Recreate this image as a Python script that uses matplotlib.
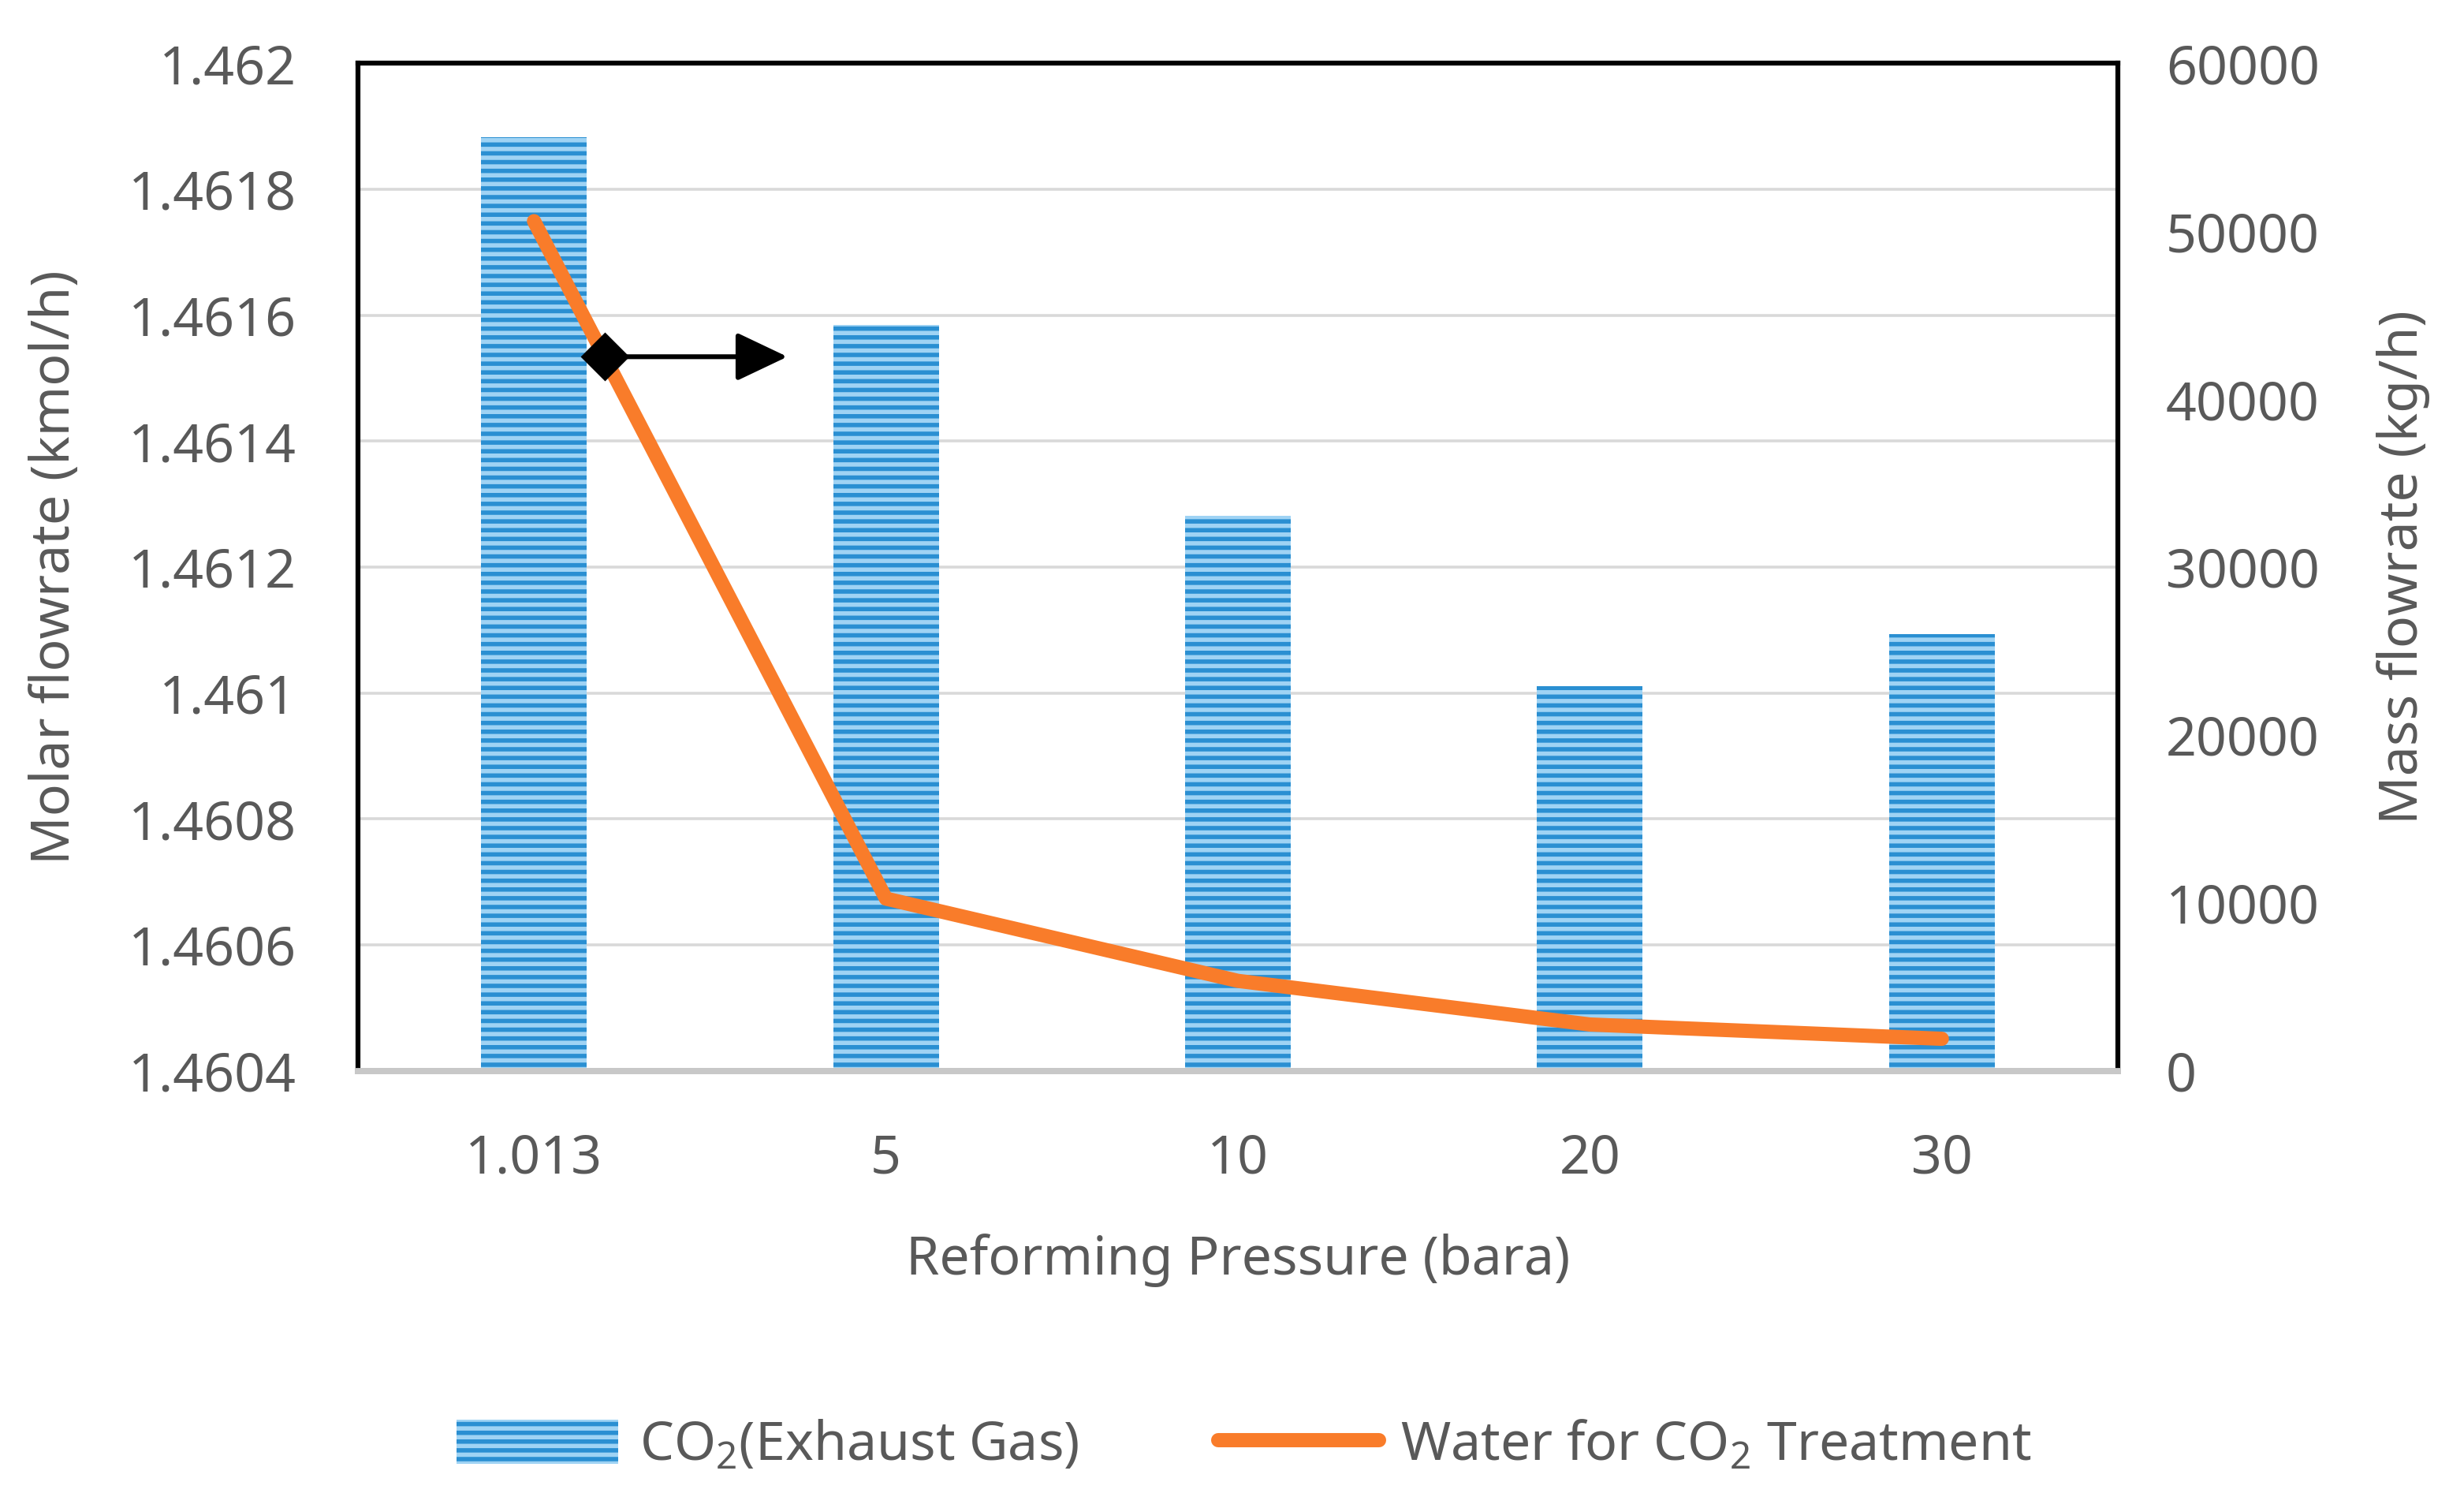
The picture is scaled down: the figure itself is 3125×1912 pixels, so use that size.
import numpy as np
import matplotlib
matplotlib.use("Agg")
import matplotlib.pyplot as plt

# data
pressures = ["1.013", "5", "10", "20", "30"]
co2_molar = [1.461882, 1.461584, 1.461281, 1.461011, 1.461094]   # kmol/h, left axis
water_mass = [50600, 10250, 5350, 2750, 1900]                     # kg/h, right axis

left_ticks = [1.4604, 1.4606, 1.4608, 1.461, 1.4612, 1.4614, 1.4616, 1.4618, 1.462]
left_ticklabels = ["1.4604", "1.4606", "1.4608", "1.461", "1.4612", "1.4614", "1.4616", "1.4618", "1.462"]
right_ticks = [0, 10000, 20000, 30000, 40000, 50000, 60000]

plt.rcParams['font.family'] = ['Noto Sans', 'DejaVu Sans']
plt.rcParams['mathtext.fontset'] = 'custom'
plt.rcParams['mathtext.rm'] = 'Noto Sans'
plt.rcParams['hatch.linewidth'] = 2.0

txt = '#595959'
fs = 24.5

fig = plt.figure(figsize=(15.625, 9.56), dpi=200)
ax = fig.add_axes([0.1453, 0.290, 0.7142, 0.668])
ax2 = ax.twinx()

x = np.arange(len(pressures))
ymin = 1.4604
bars = ax.bar(x, np.array(co2_molar) - ymin, bottom=ymin, width=0.3,
              color='#9fd3f4', edgecolor='#2a8fd2', hatch='---', linewidth=0,
              zorder=2, label='CO$_2$(Exhaust Gas)')
ax.set_xlim(-0.5, len(pressures) - 0.5)
ax.set_ylim(ymin, 1.462)
ax.set_yticks(left_ticks)
ax.set_yticklabels(left_ticklabels)
ax.set_xticks(x)
ax.set_xticklabels(pressures)
ax.yaxis.grid(True, color='#d9d9d9', linewidth=1.3, zorder=0)
ax.set_axisbelow(True)

ln, = ax2.plot(x, water_mass, color='#f97c2a', linewidth=6.5,
               solid_capstyle='round', solid_joinstyle='round',
               label='Water for CO$_2$ Treatment')
ax2.set_ylim(0, 60000)
ax2.set_yticks(right_ticks)

for a in (ax, ax2):
    a.tick_params(length=0, labelsize=fs, labelcolor=txt)
    for s in ('left', 'right', 'top'):
        a.spines[s].set_color('black')
        a.spines[s].set_linewidth(2.2)
    a.spines['bottom'].set_color('#c8c8c8')
    a.spines['bottom'].set_linewidth(2.8)
ax.tick_params(axis='y', pad=28)
ax.tick_params(axis='x', pad=28)
ax2.tick_params(axis='y', pad=22)

ax.set_ylabel('Molar flowrate (kmol/h)', fontsize=fs, color=txt)
ax.yaxis.set_label_coords(-0.157, 0.5)
ax2.set_ylabel('Mass flowrate (kg/h)', fontsize=fs, color=txt, labelpad=26)
ax.set_xlabel('Reforming Pressure (bara)', fontsize=fs, color=txt, labelpad=22)

# arrow pointing to the right axis
ax2.annotate('', xy=(0.72, 1.461534), xytext=(0.2, 1.461534),
             xycoords=ax.transData, textcoords=ax.transData,
             arrowprops=dict(arrowstyle='-|>,head_length=2.0,head_width=0.95',
                             color='black', lw=2.2, shrinkA=0, shrinkB=0))
ax2.plot([0.2], [1.461534], marker='D', markersize=15, color='black',
         transform=ax.transData, zorder=5)

fig.legend(handles=[bars, ln], labels=['CO$_2$(Exhaust Gas)', 'Water for CO$_2$ Treatment'],
           loc='center', bbox_to_anchor=(0.505, 0.041), ncol=2, frameon=False,
           fontsize=fs, labelcolor=txt, handlelength=3.0, handleheight=0.9,
           columnspacing=2.6, handletextpad=0.4)

fig.savefig('out.png', dpi=200)
